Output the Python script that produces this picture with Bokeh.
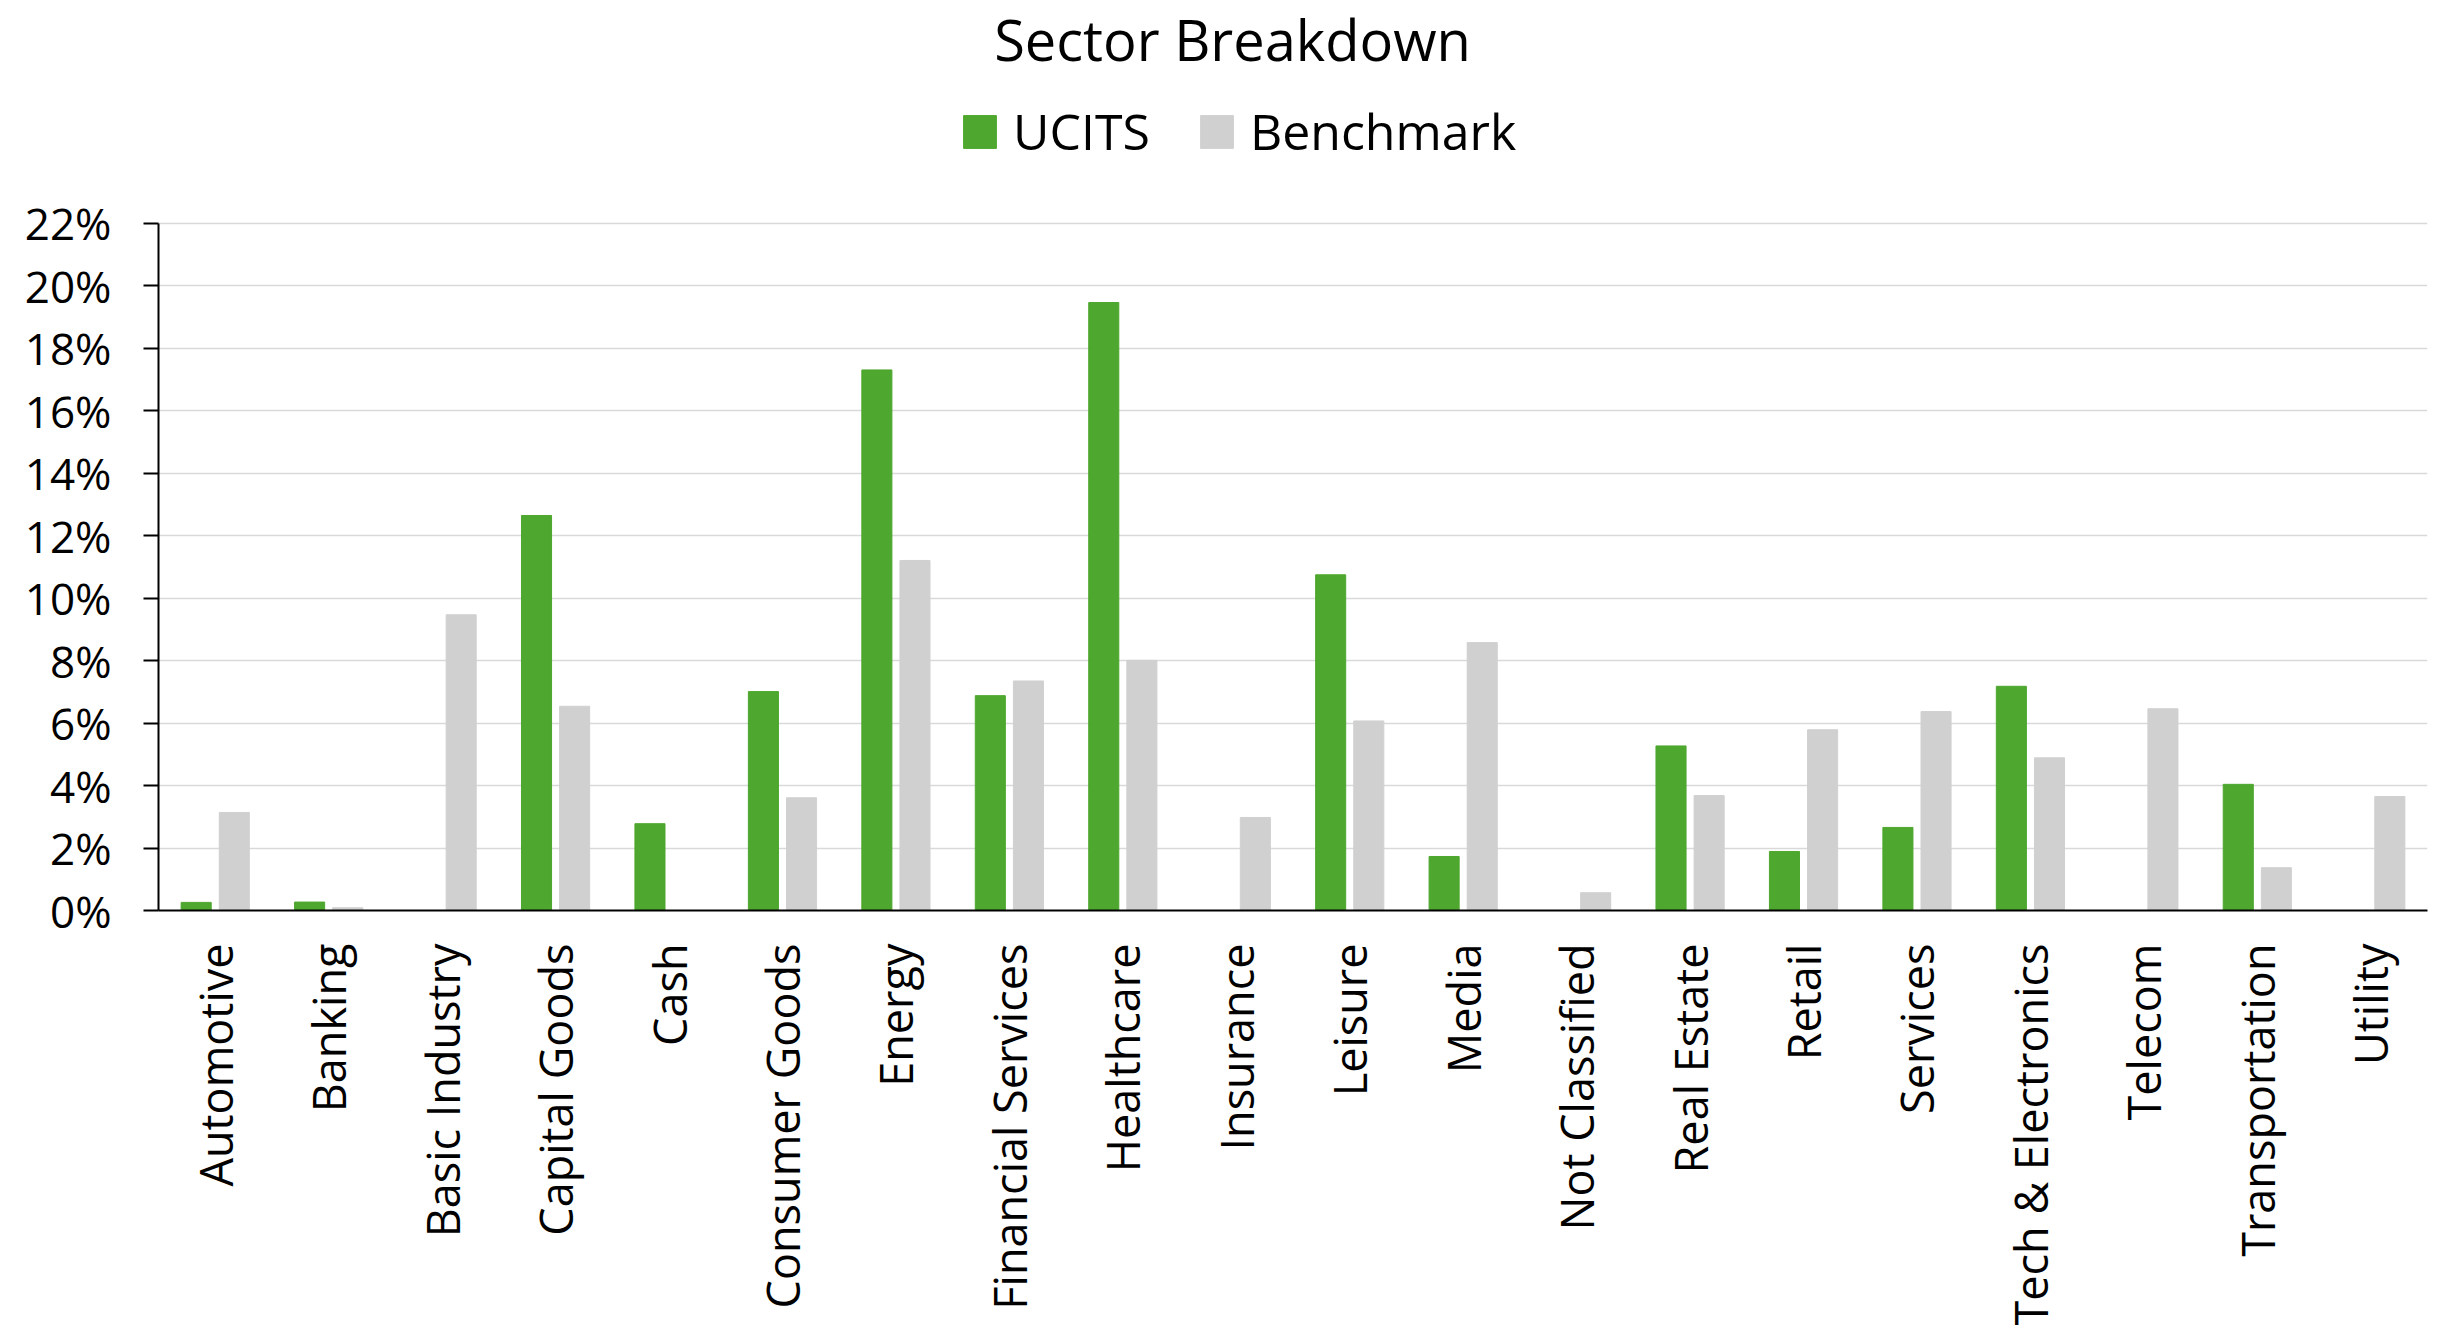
from bokeh.plotting import figure
from bokeh.models import FactorRange, Legend, LegendItem, Label, FixedTicker, ColumnDataSource
from bokeh.transform import dodge
from bokeh.embed import file_html
from bokeh.resources import INLINE

sectors = ["Automotive", "Banking", "Basic Industry", "Capital Goods", "Cash",
           "Consumer Goods", "Energy", "Financial Services", "Healthcare", "Insurance",
           "Leisure", "Media", "Not Classified", "Real Estate", "Retail",
           "Services", "Tech & Electronics", "Telecom", "Transportation", "Utility"]
ucits = [0.26, 0.27, 0.0, 12.65, 2.78, 7.01, 17.31, 6.88, 19.47, 0.0,
         10.75, 1.73, 0.0, 5.27, 1.89, 2.66, 7.18, 0.0, 4.04, 0.0]
benchmark = [3.14, 0.09, 9.47, 6.54, 0.0, 3.61, 11.21, 7.35, 8.01, 2.98,
             6.07, 8.58, 0.57, 3.68, 5.79, 6.37, 4.89, 6.46, 1.37, 3.65]
y_ticks = [0, 2, 4, 6, 8, 10, 12, 14, 16, 18, 20, 22]
y_tick_labels = ["0%", "2%", "4%", "6%", "8%", "10%", "12%", "14%", "16%", "18%", "20%", "22%"]
title_text = "Sector Breakdown"

GREEN = "#4EA72E"
GREY = "#D0D0D0"
FONT = "Open Sans"

src = ColumnDataSource(dict(sector=sectors, ucits=ucits, bench=benchmark))

# the frame reaches to the top of the page so that title and legend sit inside it;
# the value axis itself is bounded to 0..22
p = figure(x_range=FactorRange(*sectors, range_padding=0), y_range=(0, 29.141),
           width=2447, height=1329, output_backend="svg", toolbar_location=None,
           min_border_left=158, min_border_right=20, min_border_top=0,
           min_border_bottom=419)
p.outline_line_color = None

r1 = p.vbar(x=dodge("sector", -0.168, range=p.x_range), top="ucits", width=0.265,
            source=src, fill_color=GREEN, line_color=GREEN)
r2 = p.vbar(x=dodge("sector", 0.168, range=p.x_range), top="bench", width=0.265,
            source=src, fill_color=GREY, line_color=GREY)

# axes
p.yaxis.bounds = (0, 22)
p.yaxis.ticker = FixedTicker(ticks=y_ticks)
p.yaxis.major_label_overrides = {t: l for t, l in zip(y_ticks, y_tick_labels)}
p.yaxis.major_tick_out = 15
p.yaxis.major_tick_in = 0
p.yaxis.minor_tick_out = 0
p.yaxis.minor_tick_in = 0
p.yaxis.major_tick_line_width = 2
p.yaxis.axis_line_width = 2
p.yaxis.axis_line_color = "black"
p.yaxis.major_tick_line_color = "black"
p.yaxis.major_label_standoff = 32
p.yaxis.major_label_text_font = FONT
p.yaxis.major_label_text_font_size = "44px"
p.yaxis.major_label_text_color = "black"

p.xaxis.major_tick_out = 0
p.xaxis.major_tick_in = 0
p.xaxis.axis_line_width = 2
p.xaxis.axis_line_color = "black"
p.xaxis.major_label_orientation = 1.5707963267948966
p.xaxis.major_label_standoff = 33
p.xaxis.major_label_text_font = FONT
p.xaxis.major_label_text_font_size = "45px"
p.xaxis.major_label_text_color = "black"

p.xgrid.grid_line_color = None
p.ygrid.grid_line_color = "#D9D9D9"
p.ygrid.grid_line_width = 1.5

legend = Legend(items=[LegendItem(label="UCITS", renderers=[r1]),
                       LegendItem(label="Benchmark", renderers=[r2])],
                orientation="horizontal", location=(801, 745),
                glyph_width=41, glyph_height=41, label_standoff=13, spacing=46,
                label_text_font=FONT, label_text_font_size="50px",
                label_text_color="black",
                border_line_color=None, background_fill_alpha=0,
                padding=0, margin=0)
p.add_layout(legend, "center")

title = Label(x=9.467, y=27.9, text=title_text, text_align="center",
              text_baseline="alphabetic", text_font=FONT, text_font_size="56px",
              text_color="black")
p.add_layout(title)

open("out.html", "w").write(file_html(p, INLINE))
